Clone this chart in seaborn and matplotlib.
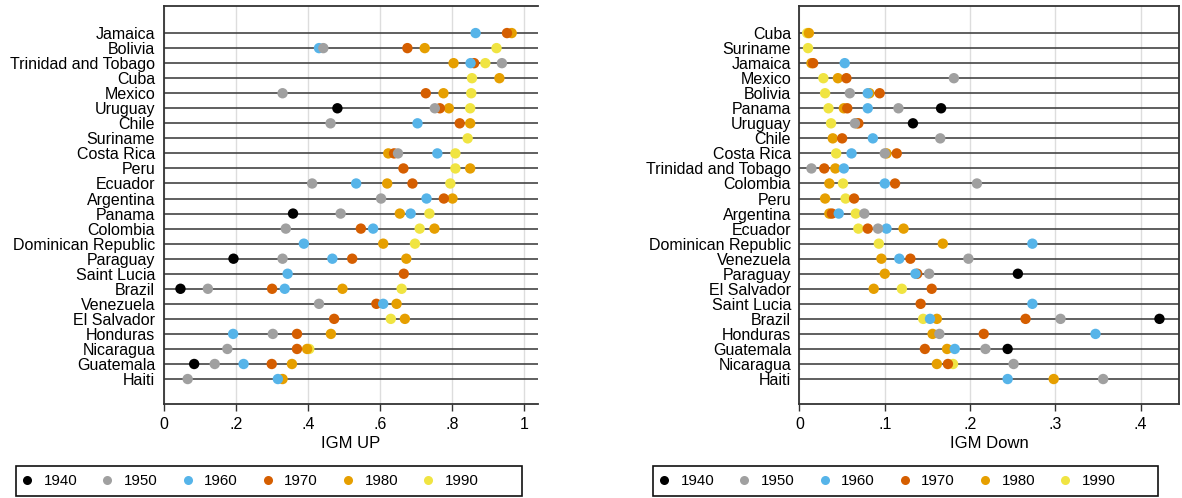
"""
IGM UP / IGM Down dot plots by birth decade.
"""

import numpy as np
import pandas as pd
import matplotlib.pyplot as plt
import seaborn as sns
from matplotlib.lines import Line2D
from matplotlib.patches import Rectangle

nan = np.nan

decades = ["1940", "1950", "1960", "1970", "1980", "1990"]
decade_colors = ["#000000", "#A0A0A0", "#56B4E9", "#D55E00", "#E69F00", "#F0E442"]

# --- IGM UP (left panel) ---
up_countries = ["Jamaica", "Bolivia", "Trinidad and Tobago", "Cuba", "Mexico",
                "Uruguay", "Chile", "Suriname", "Costa Rica", "Peru", "Ecuador",
                "Argentina", "Panama", "Colombia", "Dominican Republic",
                "Paraguay", "Saint Lucia", "Brazil", "Venezuela", "El Salvador",
                "Honduras", "Nicaragua", "Guatemala", "Haiti"]
up_1940 = [nan, nan, nan, nan, nan, .482, nan, nan, nan, nan, nan, nan,
           .359, nan, nan, .194, nan, .047, nan, nan, nan, nan, .085, nan]
up_1950 = [nan, .443, .938, nan, .330, .752, .463, nan, .650, nan, .412, .603,
           .491, .339, nan, .330, nan, .123, .431, nan, .303, .177, .142, .067]
up_1960 = [.865, .431, .851, nan, nan, nan, .704, nan, .759, nan, .534, .729,
           .685, .581, .389, .468, .344, .336, .609, nan, .193, nan, .222, .317]
up_1970 = [.952, .676, .861, nan, .727, .766, .821, nan, .639, .665, .690, .777,
           nan, .547, nan, .523, .666, .301, .590, .473, .370, .370, .300, nan]
up_1980 = [.965, .724, .804, .931, .776, .791, .850, nan, .623, .850, .620, .801,
           .655, .751, .609, .673, nan, .496, .646, .669, .464, .398, .356, .330]
up_1990 = [nan, .923, .892, .855, .853, .850, nan, .843, .809, .809, .795, nan,
           .737, .710, .697, nan, nan, .660, nan, .630, nan, .404, nan, nan]
up_ticks = [0, .2, .4, .6, .8, 1]
up_ticklabels = ["0", ".2", ".4", ".6", ".8", "1"]

# --- IGM Down (right panel) ---
down_countries = ["Cuba", "Suriname", "Jamaica", "Mexico", "Bolivia", "Panama",
                  "Uruguay", "Chile", "Costa Rica", "Trinidad and Tobago",
                  "Colombia", "Peru", "Argentina", "Ecuador",
                  "Dominican Republic", "Venezuela", "Paraguay", "El Salvador",
                  "Saint Lucia", "Brazil", "Honduras", "Guatemala", "Nicaragua",
                  "Haiti"]
down_1940 = [nan, nan, nan, nan, nan, .166, .133, nan, nan, nan, nan, nan,
             nan, nan, nan, nan, .256, nan, nan, .422, nan, .244, nan, nan]
down_1950 = [nan, nan, nan, .181, .059, .116, .065, .165, .100, .014, .208, nan,
             .076, .092, nan, .198, .152, nan, nan, .306, .164, .218, .251, .356]
down_1960 = [nan, nan, .053, nan, .080, .080, nan, .086, .061, .052, .100, nan,
             .046, .102, .273, .117, .136, nan, .273, .153, .347, .182, nan, .244]
down_1970 = [nan, nan, .016, .055, .094, .056, .069, .050, .114, .029, .112, .064,
             .038, .080, nan, .130, .138, .155, .142, .265, .216, .147, .174, nan]
down_1980 = [.011, nan, .014, .045, .082, .052, .067, .039, .102, .042, .035, .030,
             .035, .122, .168, .096, .100, .087, nan, .161, .156, .173, .161, .298]
down_1990 = [.009, .010, nan, .028, .030, .034, .037, nan, .043, nan, .051, .054,
             .066, .069, .093, nan, nan, .120, nan, .145, nan, nan, .180, nan]
down_ticks = [0, .1, .2, .3, .4]
down_ticklabels = ["0", ".1", ".2", ".3", ".4"]

W, H = 1182, 498
FONT = ["Liberation Sans", "DejaVu Sans"]

sns.set_style("white")
plt.rcParams['font.family'] = FONT
plt.rcParams['text.color'] = "black"
plt.rcParams['axes.labelcolor'] = "black"
plt.rcParams['xtick.color'] = "black"
plt.rcParams['ytick.color'] = "black"


def to_long(countries, series):
    frames = []
    for dec, vals in zip(decades, series):
        frames.append(pd.DataFrame({"row": np.arange(len(countries)),
                                    "value": vals, "decade": dec}))
    df = pd.concat(frames).dropna()
    # later decades first so earlier ones sit on top
    df["order"] = df["decade"].map({d: i for i, d in enumerate(decades)})
    return df.sort_values("order", ascending=False, kind="stable")


def draw_panel(ax, countries, series, xmax, ticks, ticklabels, xlabel, right_spine):
    n = len(countries)
    df = to_long(countries, series)

    for t in ticks:
        ax.axvline(t, color="#dddddd", lw=1, zorder=0)
    ax.hlines(np.arange(n), 0, xmax, color="#444444", lw=1.2, zorder=1)

    sns.scatterplot(data=df, x="value", y="row", hue="decade",
                    hue_order=decades, palette=decade_colors, s=56,
                    linewidth=0, legend=False, ax=ax, zorder=3)

    ax.set_xlim(0, xmax)
    ax.set_ylim(n - 1 + 1.66, -1.8)
    ax.set_yticks(np.arange(n))
    ax.set_yticklabels(countries, fontsize=11.5)
    ax.set_xticks(ticks)
    ax.set_xticklabels(ticklabels, fontsize=11.5)
    ax.set_xlabel(xlabel, fontsize=12, labelpad=3)
    ax.set_ylabel("")
    ax.tick_params(axis="y", length=0, pad=6)
    ax.tick_params(axis="x", length=5, width=1, color="#333333", pad=4,
                   bottom=True)
    for side, sp in ax.spines.items():
        sp.set_color("#333333")
        sp.set_linewidth(1.3)
    ax.spines["right"].set_visible(right_spine)


def add_legend(fig, x0, x1):
    y0, y1 = 466, 496
    fig.patches.append(Rectangle((x0 / W, 1 - y1 / H), (x1 - x0) / W,
                                 (y1 - y0) / H, transform=fig.transFigure,
                                 fill=False, edgecolor="#111111", lw=1.2))
    handles = [Line2D([], [], marker="o", ls="", color=c, markersize=6.5,
                      markeredgewidth=0, label=d)
               for d, c in zip(decades, decade_colors)]
    fig.legend(handles=handles, loc="center left", ncol=6, frameon=False,
               bbox_to_anchor=((x0 + 3.5) / W, 1 - 481 / H),
               fontsize=10.8, handlelength=1.0, handletextpad=0.6,
               columnspacing=1.5, borderpad=0, borderaxespad=0,
               labelcolor="black")


fig = plt.figure(figsize=(W / 100, H / 100), dpi=100)
ax_up = fig.add_axes([163.5 / W, 1 - 404 / H, (538 - 163.5) / W, 398 / H])
ax_dn = fig.add_axes([799.5 / W, 1 - 404 / H, (1179 - 799.5) / W, 398 / H])

draw_panel(ax_up, up_countries,
           [up_1940, up_1950, up_1960, up_1970, up_1980, up_1990],
           (538 - 163.5) / 360.8, up_ticks, up_ticklabels, "IGM UP", False)
draw_panel(ax_dn, down_countries,
           [down_1940, down_1950, down_1960, down_1970, down_1980, down_1990],
           (1179 - 799.5) / 853.0, down_ticks, down_ticklabels, "IGM Down", True)

add_legend(fig, 16, 522)
add_legend(fig, 653, 1158)

fig.savefig("out.png", dpi=100)
